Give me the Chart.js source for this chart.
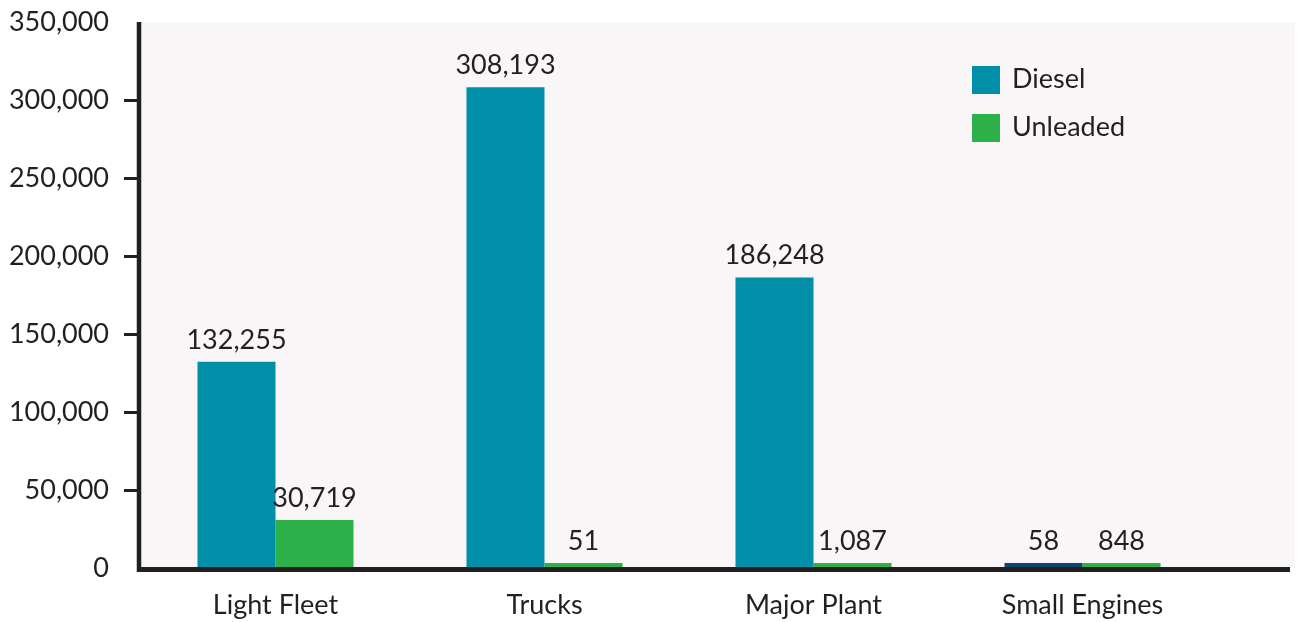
<!DOCTYPE html>
<html>
<head>
<meta charset="utf-8">
<script src="https://cdn.jsdelivr.net/npm/chart.js@4.4.1/dist/chart.umd.min.js"></script>
<style>
html,body{margin:0;padding:0;background:#ffffff;}
#wrap{width:1301px;height:622px;position:relative;}
</style>
</head>
<body>
<div id="wrap"><canvas id="c" width="1301" height="622"></canvas></div>
<script>
const categories = ['Light Fleet', 'Trucks', 'Major Plant', 'Small Engines'];
const dieselValues = [132255, 308193, 186248, 58];
const unleadedValues = [30719, 51, 1087, 848];
const seriesNames = ['Diesel', 'Unleaded'];
const yTicks = [0, 50000, 100000, 150000, 200000, 250000, 300000, 350000];

const TEXT = '#231f20';
const FONT = 'Lato, "Open Sans", sans-serif';
const dieselColor = '#008ea9';
const dieselSmallColor = '#0d466b';
const unleadedColor = '#2bb04a';

const fmt = v => v.toLocaleString('en-US');

const decor = {
  id: 'decor',
  beforeDraw(chart) {
    const {ctx, chartArea} = chart;
    ctx.save();
    ctx.fillStyle = '#f8f6f7';
    ctx.fillRect(chartArea.left, chartArea.top, 1295 - chartArea.left, chartArea.bottom - chartArea.top);
    ctx.restore();
  },
  afterDatasetsDraw(chart) {
    const {ctx, chartArea} = chart;
    ctx.save();
    ctx.font = '27px ' + FONT;
    ctx.fillStyle = TEXT;
    ctx.textAlign = 'center';
    ctx.textBaseline = 'alphabetic';
    chart.data.datasets.forEach((ds, di) => {
      const meta = chart.getDatasetMeta(di);
      meta.data.forEach((bar, i) => {
        ctx.fillText(fmt(ds.data[i]), bar.x, bar.y - 13);
      });
    });
    ctx.strokeStyle = TEXT;
    ctx.lineWidth = 4.5;
    ctx.beginPath();
    ctx.moveTo(139, chartArea.top);
    ctx.lineTo(139, chartArea.bottom + 4);
    ctx.stroke();
    ctx.lineWidth = 5;
    ctx.beginPath();
    ctx.moveTo(137, chartArea.bottom + 1.5);
    ctx.lineTo(1290, chartArea.bottom + 1.5);
    ctx.stroke();
    const lx = 972, ly = [66, 114];
    const cols = [dieselColor, unleadedColor];
    ctx.textAlign = 'left';
    ctx.textBaseline = 'middle';
    seriesNames.forEach((n, i) => {
      ctx.fillStyle = cols[i];
      ctx.fillRect(lx, ly[i], 28, 28);
      ctx.fillStyle = TEXT;
      ctx.fillText(n, lx + 40, ly[i] + 13);
    });
    ctx.restore();
  }
};

new Chart(document.getElementById('c'), {
  type: 'bar',
  data: {
    labels: categories,
    datasets: [
      {label: seriesNames[0], data: dieselValues,
       backgroundColor: dieselValues.map(v => v < 1000 ? dieselSmallColor : dieselColor)},
      {label: seriesNames[1], data: unleadedValues, backgroundColor: unleadedColor}
    ]
  },
  plugins: [decor],
  options: {
    responsive: false,
    animation: false,
    devicePixelRatio: 1,
    layout: {padding: {top: 22, right: 84, left: 0, bottom: 0}},
    datasets: {bar: {barPercentage: 1, categoryPercentage: 0.58, minBarLength: 5, borderWidth: 0}},
    plugins: {legend: {display: false}, tooltip: {enabled: false}},
    scales: {
      x: {
        grid: {display: false},
        border: {display: false},
        ticks: {color: TEXT, font: {family: FONT, size: 27}, padding: 13},
        afterFit(s) { s.height = 54; }
      },
      y: {
        min: 0, max: 350000,
        afterBuildTicks(s) { s.ticks = yTicks.map(v => ({value: v})); },
        grid: {drawOnChartArea: false, drawTicks: true, tickLength: 17, tickWidth: 3,
               tickColor: c => (c.index > 0 && c.index < yTicks.length - 1) ? TEXT : 'rgba(0,0,0,0)'},
        border: {display: false},
        ticks: {color: TEXT, font: {family: FONT, size: 27}, padding: 15, callback: v => fmt(v)},
        afterFit(s) { s.width = 141; s.paddingTop = 0; s.paddingBottom = 0; }
      }
    }
  }
});
</script>
</body>
</html>
